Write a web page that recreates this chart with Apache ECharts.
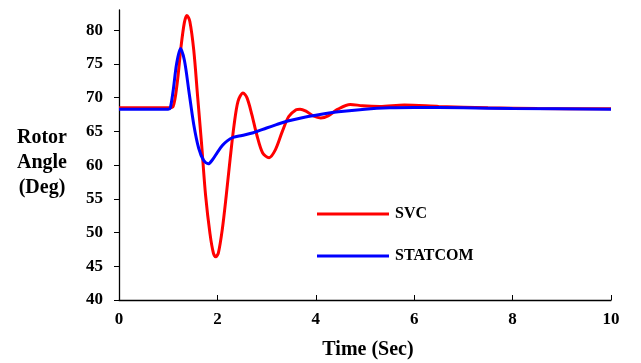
<!DOCTYPE html>
<html>
<head>
<meta charset="utf-8">
<script src="https://cdn.jsdelivr.net/npm/echarts@6/dist/echarts.min.js"></script>
<style>
html,body{margin:0;padding:0;background:#fff;}
#chart{width:641px;height:363px;}
</style>
</head>
<body>
<div id="chart"></div>
<script>
// Time (s) and rotor angle (deg)
var svcTime = [0, 1.0, 1.1, 1.18, 1.26, 1.33, 1.38, 1.44, 1.52, 1.6, 1.68, 1.76, 1.85, 1.92, 1.965, 2.02, 2.1, 2.18, 2.26, 2.34, 2.42, 2.52, 2.6, 2.7, 2.8, 2.92, 3.05, 3.18, 3.32, 3.45, 3.6, 3.68, 3.8, 3.95, 4.1, 4.25, 4.45, 4.7, 4.95, 5.3, 5.8, 6.5, 7.5, 8.5, 10];
var svcAngle = [68.5, 68.5, 68.7, 72, 77.5, 81.2, 82.2, 81.3, 77, 70, 63, 55.5, 49.8, 46.9, 46.4, 47, 50.5, 55.5, 61, 66, 69.5, 70.7, 70, 67.5, 64.5, 61.8, 61.1, 62.3, 65, 67.2, 68.2, 68.3, 68, 67.3, 67.0, 67.3, 68.3, 69.0, 68.8, 68.7, 68.9, 68.7, 68.5, 68.4, 68.35];
var statcomTime = [0, 1.0, 1.04, 1.1, 1.17, 1.25, 1.33, 1.42, 1.52, 1.62, 1.72, 1.815, 1.9, 2.0, 2.1, 2.2, 2.32, 2.5, 2.73, 3.0, 3.2, 3.41, 3.7, 4.0, 4.46, 5.0, 5.5, 6, 7, 8, 10];
var statcomAngle = [68.3, 68.3, 68.4, 71, 75, 77.3, 75.5, 71, 66, 62.5, 60.7, 60.2, 60.8, 61.9, 62.9, 63.6, 64.1, 64.4, 64.8, 65.5, 66.0, 66.5, 67.0, 67.4, 67.9, 68.3, 68.5, 68.55, 68.5, 68.4, 68.3];
var yTicks = [40, 45, 50, 55, 60, 65, 70, 75, 80];
var xTicks = [0, 2, 4, 6, 8, 10];
var seriesNames = ['SVC', 'STATCOM'];

function pairs(xs, ys) { return xs.map(function (x, i) { return [x, ys[i]]; }); }

var font = 'Liberation Serif, Times New Roman, serif';
var chart = echarts.init(document.getElementById('chart'));
chart.setOption({
  animation: false,
  backgroundColor: '#fff',
  grid: { left: 119, right: 30, top: 10, bottom: 63 },
  xAxis: {
    type: 'value', min: 0, max: 10, interval: 2,
    axisLine: { lineStyle: { color: '#000', width: 1.3 } },
    axisTick: { show: true, inside: true, length: 5, lineStyle: { color: '#000' }, customValues: xTicks },
    axisLabel: { customValues: xTicks, color: '#000', fontFamily: font, fontWeight: 'bold', fontSize: 17, margin: 11 },
    splitLine: { show: false }
  },
  yAxis: {
    type: 'value', min: 40, max: 83, interval: 5,
    axisLine: { show: true, lineStyle: { color: '#000', width: 1.3 } },
    axisTick: { show: true, inside: false, length: 5, lineStyle: { color: '#000' }, customValues: yTicks },
    axisLabel: { customValues: yTicks, color: '#000', fontFamily: font, fontWeight: 'bold', fontSize: 17, margin: 16 },
    splitLine: { show: false }
  },
  legend: {
    orient: 'vertical', left: 312, top: 201, itemGap: 26,
    itemWidth: 72, itemHeight: 3, icon: 'rect',
    textStyle: { color: '#000', fontFamily: font, fontWeight: 'bold', fontSize: 16, padding: [0, 0, 0, 1] },
    data: seriesNames
  },
  graphic: [
    { type: 'text', x: 42, y: 138, style: { text: 'Rotor', font: 'bold 20px ' + font, fill: '#000', textAlign: 'center', textVerticalAlign: 'middle' } },
    { type: 'text', x: 42, y: 163, style: { text: 'Angle', font: 'bold 20px ' + font, fill: '#000', textAlign: 'center', textVerticalAlign: 'middle' } },
    { type: 'text', x: 42, y: 188, style: { text: '(Deg)', font: 'bold 20px ' + font, fill: '#000', textAlign: 'center', textVerticalAlign: 'middle' } },
    { type: 'text', x: 368, y: 350, style: { text: 'Time (Sec)', font: 'bold 20px ' + font, fill: '#000', textAlign: 'center', textVerticalAlign: 'middle' } }
  ],
  series: [
    { name: seriesNames[0], type: 'line', data: pairs(svcTime, svcAngle), smooth: 0.3, showSymbol: false,
      lineStyle: { color: '#ff0000', width: 3 }, itemStyle: { color: '#ff0000' } },
    { name: seriesNames[1], type: 'line', data: pairs(statcomTime, statcomAngle), smooth: 0.3, showSymbol: false,
      lineStyle: { color: '#0000ff', width: 3 }, itemStyle: { color: '#0000ff' } }
  ]
});
</script>
</body>
</html>
